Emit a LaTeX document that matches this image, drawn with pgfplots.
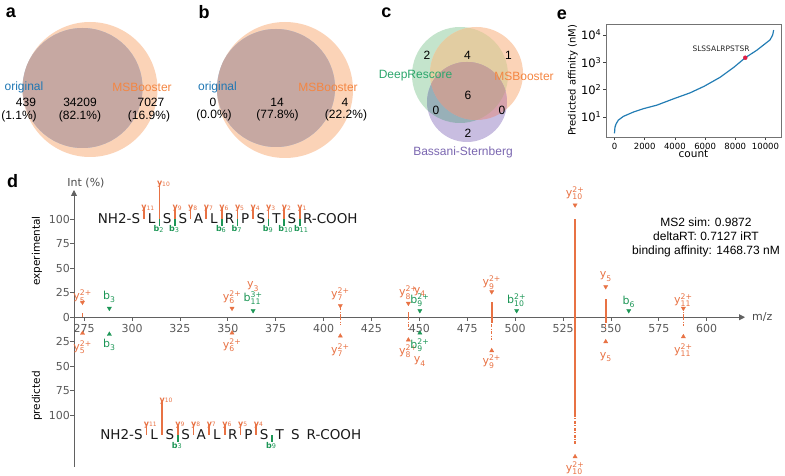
\documentclass[border=0pt]{standalone}
\usepackage{fontspec}
\setmainfont{Liberation Sans}
\newfontfamily\dejavu{DejaVu Sans}
\usepackage{amsmath}
\usepackage{pgfplots}
\pgfplotsset{compat=1.18}
\usetikzlibrary{arrows.meta}

% venn colours
\definecolor{vBlue}{RGB}{31,119,180}
\definecolor{vOrange}{RGB}{244,134,66}
\definecolor{vGreen}{RGB}{44,166,108}
\definecolor{vPurple}{RGB}{122,102,176}
\definecolor{fPeach}{RGB}{251,211,183}
\definecolor{fOver}{RGB}{198,168,162}
\definecolor{fBlue}{RGB}{178,198,222}
\definecolor{fG}{RGB}{196,228,204}
\definecolor{fP}{RGB}{200,189,224}
\definecolor{fGO}{RGB}{226,205,162}
\definecolor{fGP}{RGB}{152,176,184}
\definecolor{fOP}{RGB}{214,162,172}
\definecolor{fGOP}{RGB}{198,162,152}
% spectrum colours
\definecolor{pOr}{RGB}{232,114,68}
\definecolor{pGr}{RGB}{28,150,86}
\definecolor{lineBlue}{RGB}{35,125,180}
\definecolor{dotRed}{RGB}{222,30,70}

\newcommand{\ion}[3]{#1$^{\text{#3}}_{\text{#2}}$}
\newcommand{\yl}[1]{\textbf{y}\raisebox{-0.8pt}{\fontsize{6}{6}\selectfont #1}}
\newcommand{\bl}[1]{\textbf{b}\raisebox{-0.8pt}{\fontsize{6.5}{7}\selectfont #1}}
% sequence annotation (canvas pixel coordinates)
\newcommand{\ybar}[3]{\draw[pOr,line width=1.7pt] (axis cs:#1,#2) -- (axis cs:#1,#3);}
\newcommand{\bbar}[3]{\draw[pGr,line width=1.7pt] (axis cs:#1,#2) -- (axis cs:#1,#3);}
\newcommand{\ylab}[3]{\node[anchor=base west,inner sep=0pt,text=pOr,font=\dejavu\fontsize{8}{8}\selectfont,xshift=-2.6pt] at (axis cs:#1,#2) {\yl{#3}};}
\newcommand{\blab}[3]{\node[anchor=base west,inner sep=0pt,text=pGr,font=\dejavu\fontsize{8}{8}\selectfont,xshift=-6pt] at (axis cs:#1,#2) {\bl{#3}};}

\tikzset{
  vtxt/.style={font=\fontsize{12}{14}\selectfont, inner sep=0pt},
  plab/.style={font=\bfseries\fontsize{18}{20}\selectfont, anchor=base, inner sep=0pt},
  ionO/.style={text=pOr, font=\dejavu\fontsize{11}{12}\selectfont, inner sep=0pt},
  ionG/.style={text=pGr, font=\dejavu\fontsize{11}{12}\selectfont, inner sep=0pt},
  seq/.style={inner sep=0pt, text=black!90, font=\dejavu\fontsize{13.5}{14}\selectfont},
}
\pgfplotsset{
  pk/.style={ycomb, mark=none, color=pOr, line width=1.7pt},
  pkd/.style={ycomb, mark=none, color=pOr, line width=1.5pt, dash pattern=on 3pt off 1.5pt on 0.9pt off 1.5pt},
}

\begin{document}
\begin{tikzpicture}
\pgfplotsset{/pgf/number format/assume math mode=true}
\path[use as bounding box] (0pt,0pt) rectangle (785pt,476pt);

% ---------- canvas: panels a, b, c and free text (pixel coordinates) ----------
\begin{axis}[name=canvas, at={(0pt,0pt)}, anchor=south west, scale only axis,
  width=785pt, height=476pt, xmin=0, xmax=785, ymin=0, ymax=476,
  y dir=reverse, hide axis, clip=false]

% panel a
\fill[fPeach] (axis cs:90,89.5) circle[radius=67.5pt];
\fill[fBlue] (axis cs:82.5,88) circle[radius=60pt];
\begin{scope}
  \clip (axis cs:90,89.5) circle[radius=67.5pt];
  \fill[fOver] (axis cs:82.5,88) circle[radius=60pt];
\end{scope}
\node[vtxt, text=vBlue] at (axis cs:24,87) {original};
\node[vtxt, text=vOrange] at (axis cs:142,87) {MSBooster};
\node[vtxt] at (axis cs:26,102) {439};
\node[vtxt] at (axis cs:19,116.5) {(1.1\%)};
\node[vtxt] at (axis cs:80,102) {34209};
\node[vtxt] at (axis cs:80,116.5) {(82.1\%)};
\node[vtxt] at (axis cs:151,102) {7027};
\node[vtxt] at (axis cs:149,116.5) {(16.9\%)};

% panel b
\fill[fPeach] (axis cs:285,90) circle[radius=68pt];
\fill[fBlue] (axis cs:276,88) circle[radius=59pt];
\begin{scope}
  \clip (axis cs:285,90) circle[radius=68pt];
  \fill[fOver] (axis cs:276,88) circle[radius=59pt];
\end{scope}
\node[vtxt, text=vBlue] at (axis cs:217.5,87) {original};
\node[vtxt, text=vOrange] at (axis cs:328,87) {MSBooster};
\node[vtxt] at (axis cs:213,102) {0};
\node[vtxt] at (axis cs:214,115.5) {(0.0\%)};
\node[vtxt] at (axis cs:277,102) {14};
\node[vtxt] at (axis cs:277.5,115.5) {(77.8\%)};
\node[vtxt] at (axis cs:345,102) {4};
\node[vtxt] at (axis cs:346,115.5) {(22.2\%)};

% panel c
\fill[fG] (axis cs:460,75) circle[radius=48pt];
\fill[fPeach] (axis cs:476.5,73.5) circle[radius=46.5pt];
\fill[fP] (axis cs:467,102) circle[radius=40pt];
\begin{scope}
  \clip (axis cs:460,75) circle[radius=48pt];
  \fill[fGO] (axis cs:476.5,73.5) circle[radius=46.5pt];
\end{scope}
\begin{scope}
  \clip (axis cs:460,75) circle[radius=48pt];
  \fill[fGP] (axis cs:467,102) circle[radius=40pt];
\end{scope}
\begin{scope}
  \clip (axis cs:476.5,73.5) circle[radius=46.5pt];
  \fill[fOP] (axis cs:467,102) circle[radius=40pt];
\end{scope}
\begin{scope}
  \clip (axis cs:460,75) circle[radius=48pt];
  \clip (axis cs:476.5,73.5) circle[radius=46.5pt];
  \fill[fGOP] (axis cs:467,102) circle[radius=40pt];
\end{scope}
\node[vtxt] at (axis cs:427,55) {2};
\node[vtxt] at (axis cs:467.5,55) {4};
\node[vtxt] at (axis cs:508.5,55) {1};
\node[vtxt, text=vGreen] at (axis cs:415.5,76) {DeepRescore};
\node[vtxt, text=vOrange] at (axis cs:524,76) {MSBooster};
\node[vtxt] at (axis cs:468,95) {6};
\node[vtxt] at (axis cs:436,110) {0};
\node[vtxt] at (axis cs:502,110) {0};
\node[vtxt] at (axis cs:468,133) {2};
\node[vtxt, text=vPurple] at (axis cs:463,152) {Bassani-Sternberg};

% panel letters
\node[plab] at (axis cs:11,18) {a};
\node[plab] at (axis cs:204,18.5) {b};
\node[plab] at (axis cs:386.5,17.5) {c};
\node[plab] at (axis cs:12.5,188) {d};
\node[plab] at (axis cs:562,20) {e};

% panel e annotation
\node[inner sep=0pt, font=\dejavu\fontsize{7.5}{8}\selectfont, text=black!85] at (axis cs:721,49) {SLSSALRPSTSR};

% panel d free text
\node[inner sep=0pt, font=\dejavu\fontsize{11}{12}\selectfont, text=black!70] at (axis cs:86,183) {Int (\%)};
\node[anchor=west, inner sep=0pt, font=\dejavu\fontsize{11}{12}\selectfont, text=black!70] at (axis cs:752,317) {m/z};
\node[rotate=90, inner sep=0pt, font=\dejavu\fontsize{10.5}{12}\selectfont] at (axis cs:37,251) {experimental};
\node[rotate=90, inner sep=0pt, font=\dejavu\fontsize{10.5}{12}\selectfont] at (axis cs:37,396) {predicted};
\node[inner sep=0pt, font=\fontsize{12}{14}\selectfont] at (axis cs:706,222) {MS2 sim: 0.9872};
\node[inner sep=0pt, font=\fontsize{12}{14}\selectfont] at (axis cs:706,236.5) {deltaRT: 0.7127 iRT};
\node[inner sep=0pt, font=\fontsize{12}{14}\selectfont] at (axis cs:706,251) {binding affinity: 1468.73 nM};

% experimental sequence annotation
\node[seq, anchor=east] at (axis cs:140.3,219) {NH2-S};
\node[seq] at (axis cs:151.6,219) {L};
\node[seq] at (axis cs:167.2,219) {S};
\node[seq] at (axis cs:182.8,219) {S};
\node[seq] at (axis cs:198.4,219) {A};
\node[seq] at (axis cs:214.0,219) {L};
\node[seq] at (axis cs:229.6,219) {R};
\node[seq] at (axis cs:245.2,219) {P};
\node[seq] at (axis cs:260.8,219) {S};
\node[seq] at (axis cs:276.4,219) {T};
\node[seq] at (axis cs:292.0,219) {S};
\node[seq, anchor=west] at (axis cs:302.9,219) {R-COOH};
\ybar{143.8}{208}{219}\ylab{143.8}{209.5}{11}
\ybar{159.4}{183}{219}\ylab{159.4}{185.5}{10}
\ybar{175.0}{208}{219}\ylab{175.0}{209.5}{9}
\ybar{190.6}{208}{219}\ylab{190.6}{209.5}{8}
\ybar{206.2}{208}{219}\ylab{206.2}{209.5}{7}
\ybar{221.8}{208}{219}\ylab{221.8}{209.5}{6}
\ybar{237.4}{208}{219}\ylab{237.4}{209.5}{5}
\ybar{253.0}{208}{219}\ylab{253.0}{209.5}{4}
\ybar{268.6}{208}{219}\ylab{268.6}{209.5}{3}
\ybar{284.2}{208}{219}\ylab{284.2}{209.5}{2}
\ybar{299.8}{208}{219}\ylab{299.8}{209.5}{1}
\bbar{159.4}{219}{226}\blab{159.4}{231.5}{2}
\bbar{175.0}{219}{226}\blab{175.0}{231.5}{3}
\bbar{221.8}{219}{226}\blab{221.8}{231.5}{6}
\bbar{237.4}{219}{226}\blab{237.4}{231.5}{7}
\bbar{268.6}{219}{226}\blab{268.6}{231.5}{9}
\bbar{284.2}{219}{226}\blab{284.2}{231.5}{10}
\bbar{299.8}{219}{226}\blab{299.8}{231.5}{11}

% predicted sequence annotation
\node[seq, anchor=east] at (axis cs:142.8,435) {NH2-S};
\node[seq] at (axis cs:154.2,435) {L};
\node[seq] at (axis cs:169.9,435) {S};
\node[seq] at (axis cs:185.6,435) {S};
\node[seq] at (axis cs:201.3,435) {A};
\node[seq] at (axis cs:217.0,435) {L};
\node[seq] at (axis cs:232.7,435) {R};
\node[seq] at (axis cs:248.4,435) {P};
\node[seq] at (axis cs:264.1,435) {S};
\node[seq] at (axis cs:279.8,435) {T};
\node[seq] at (axis cs:295.5,435) {S};
\node[seq, anchor=west] at (axis cs:306.5,435) {R-COOH};
\ybar{146.35}{424}{435}\ylab{146.35}{426}{11}
\ybar{162.05}{400}{435}\ylab{162.05}{402}{10}
\ybar{177.75}{424}{435}\ylab{177.75}{426}{9}
\ybar{193.45}{424}{435}\ylab{193.45}{426}{8}
\ybar{209.15}{424}{435}\ylab{209.15}{426}{7}
\ybar{224.85}{424}{435}\ylab{224.85}{426}{6}
\ybar{240.55}{424}{435}\ylab{240.55}{426}{5}
\ybar{256.25}{424}{435}\ylab{256.25}{426}{4}
\bbar{177.75}{435}{442}\blab{177.75}{448}{3}
\bbar{271.95}{435}{442}\blab{271.95}{448}{9}
\end{axis}

% ---------- panel e ----------
\begin{axis}[at={(606pt,339pt)}, anchor=south west, scale only axis,
  width=175pt, height=113pt,
  xmin=-563, xmax=11026, ymode=log, ymin=1.85, ymax=25200,
  xtick={0,2000,4000,6000,8000,10000}, scaled x ticks=false,
  ytick={10,100,1000,10000},
  yticklabels={10\textsuperscript{1},10\textsuperscript{2},10\textsuperscript{3},10\textsuperscript{4}},
  yminorticks=false,
  xtick pos=bottom, ytick pos=left, tick align=outside, major tick length=3pt,
  tick style={black!75, line width=0.5pt},
  axis line style={black!55, line width=0.5pt},
  xticklabel style={font=\dejavu\fontsize{8.5}{9}\selectfont, /pgf/number format/1000 sep={}},
  yticklabel style={font=\dejavu\fontsize{11.5}{12}\selectfont, inner xsep=1.5pt},
  xlabel={count}, ylabel={Predicted affinity (nM)},
  xlabel style={font=\dejavu\fontsize{10.5}{11}\selectfont, at={(axis description cs:0.5,-0.15)}, anchor=center},
  ylabel style={font=\dejavu\fontsize{10}{11}\selectfont, at={(axis description cs:-0.19,0.5)}, anchor=center},
]
\addplot[lineBlue, line width=1.2pt] coordinates {
(0,2.5) (30,4.2) (100,5.5) (250,7.6) (585,10.5) (1250,15.1) (1900,20)
(2800,27) (3950,47) (5000,76) (5930,132) (6990,282) (7910,661) (8660,1469)
(9420,2754) (9860,4266) (10300,6607) (10475,10000) (10540,15136)
};
\addplot[only marks, mark=*, mark size=2pt, dotRed] coordinates {(8660,1468.73)};
\end{axis}

% ---------- panel d ----------
\begin{axis}[at={(74pt,9pt)}, anchor=south west, scale only axis,
  width=671pt, height=277pt,
  xmin=269.7, xmax=620, ymin=-153, ymax=130,
  axis x line=middle, axis y line=left,
  axis line style={draw=black!62, line width=0.9pt, -{Triangle[length=6pt,width=6pt]}},
  xtick={275,300,...,600},
  ytick={-100,-75,-50,-25,0,25,50,75,100},
  yticklabels={100,75,50,25,0,25,50,75,100},
  tick align=outside, major tick length=3.5pt,
  tick style={black!62, line width=0.8pt},
  ticklabel style={font=\dejavu\fontsize{11}{12}\selectfont, text=black!65},
  yticklabel style={inner xsep=0.5pt},
  clip=false,
]
% experimental peaks (solid: observed, dash-dot: predicted)
\addplot[pk] coordinates {(274.15,4) (444.26,5) (487.77,16) (531.29,100) (547.28,19)};
\addplot[pkd] coordinates {(408.74,9) (587.83,8)};
% predicted peaks
\addplot[pkd] coordinates {(408.74,-8) (444.26,-12) (487.77,-23) (531.29,-131) (547.28,-14) (587.83,-9)};
\addplot[pk] coordinates {(487.77,-6) (531.29,-100) (547.28,-6)};
% peak markers
\addplot[only marks, mark=triangle*, mark size=2.4pt, pOr, mark options={rotate=180}] coordinates {
(274.15,15.3) (352.20,9.1) (408.74,11.8) (444.26,14.2) (487.77,26) (531.29,114.7) (547.28,31.2) (587.83,9.1)};
\addplot[only marks, mark=triangle*, mark size=2.4pt, pGr, mark options={rotate=180}] coordinates {
(288.16,9.1) (363.20,6.7) (450.25,6.7) (500.78,6.7) (559.31,6.7)};
\addplot[only marks, mark=triangle*, mark size=2.4pt, pOr] coordinates {
(274.15,-16.4) (352.20,-16.1) (408.74,-19.2) (444.26,-23.2) (487.77,-34.2) (531.29,-142.5) (547.28,-25) (587.83,-19.9)};
\addplot[only marks, mark=triangle*, mark size=2.4pt, pGr] coordinates {
(288.16,-17.4) (450.25,-16.1)};
% experimental labels
\node[ionO] at (axis cs:274.15,21.0) {\ion{y}{5}{2+}};
\node[ionG] at (axis cs:288.16,20.7) {\ion{b}{3}{}};
\node[ionO] at (axis cs:352.20,20.7) {\ion{y}{6}{2+}};
\node[ionO] at (axis cs:363.20,31.2) {\ion{y}{3}{}};
\node[ionG] at (axis cs:363.20,19.4) {\ion{b}{11}{3+}};
\node[ionO] at (axis cs:408.74,23.7) {\ion{y}{7}{2+}};
\node[ionO] at (axis cs:444.26,25.3) {\ion{y}{8}{2+}};
\node[ionO] at (axis cs:450.23,25.8) {\ion{y}{4}{}};
\node[ionG] at (axis cs:450.25,17.6) {\ion{b}{9}{2+}};
\node[ionO] at (axis cs:487.77,35.3) {\ion{y}{9}{2+}};
\node[ionG] at (axis cs:500.78,17.6) {\ion{b}{10}{2+}};
\node[ionO] at (axis cs:531.29,126.9) {\ion{y}{10}{2+}};
\node[ionO] at (axis cs:547.28,41.4) {\ion{y}{5}{}};
\node[ionG] at (axis cs:559.31,15.9) {\ion{b}{6}{}};
\node[ionO] at (axis cs:587.83,17.6) {\ion{y}{11}{2+}};
% predicted labels
\node[ionO] at (axis cs:274.15,-30.4) {\ion{y}{5}{2+}};
\node[ionG] at (axis cs:288.16,-28.4) {\ion{b}{3}{}};
\node[ionO] at (axis cs:352.20,-28.4) {\ion{y}{6}{2+}};
\node[ionO] at (axis cs:408.74,-33.5) {\ion{y}{7}{2+}};
\node[ionO] at (axis cs:444.26,-34.5) {\ion{y}{8}{2+}};
\node[ionO] at (axis cs:450.23,-45.4) {\ion{y}{4}{}};
\node[ionG] at (axis cs:450.25,-28.4) {\ion{b}{9}{2+}};
\node[ionO] at (axis cs:487.77,-45.4) {\ion{y}{9}{2+}};
\node[ionO] at (axis cs:531.29,-154) {\ion{y}{10}{2+}};
\node[ionO] at (axis cs:547.28,-40.6) {\ion{y}{5}{}};
\node[ionO] at (axis cs:587.83,-33.5) {\ion{y}{11}{2+}};
\end{axis}
\end{tikzpicture}
\end{document}
